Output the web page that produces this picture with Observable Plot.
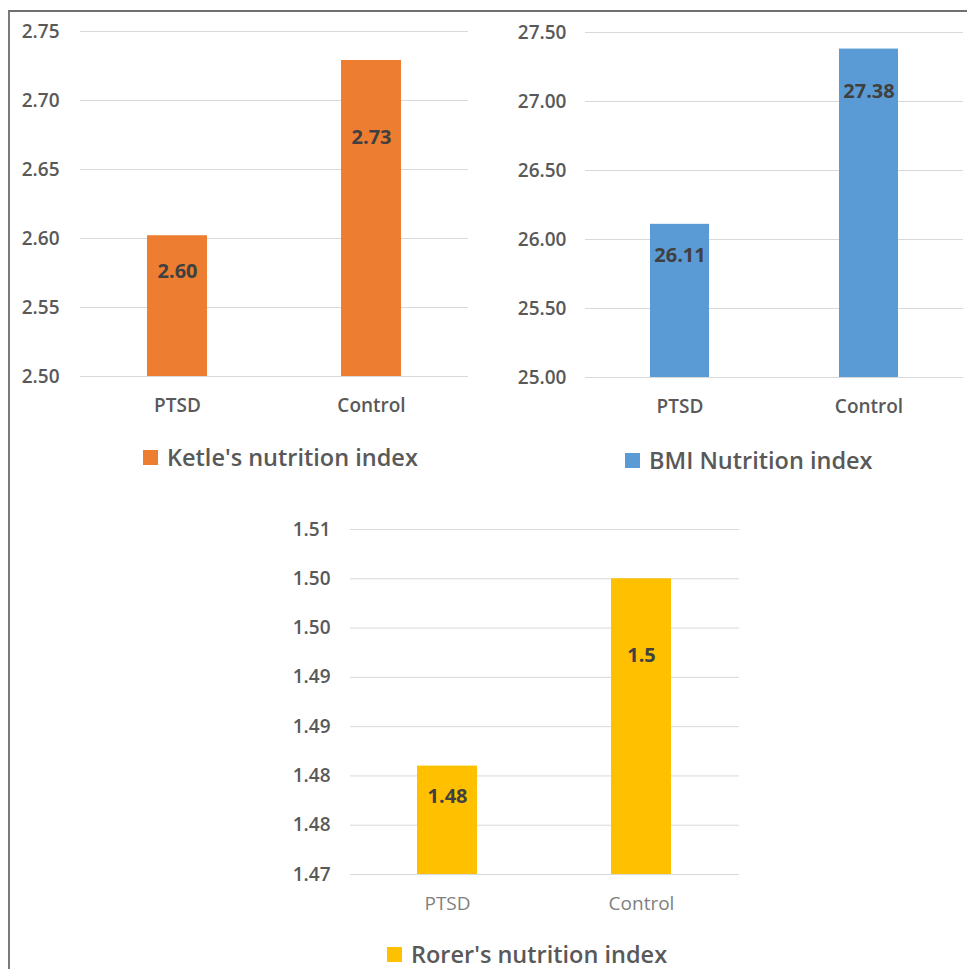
<!DOCTYPE html>
<html>
<head>
<meta charset="utf-8">
<script src="https://cdn.jsdelivr.net/npm/d3@7"></script>
<script src="https://cdn.jsdelivr.net/npm/@observablehq/plot@0.6"></script>
<style>
  html, body { margin: 0; padding: 0; background: #fff; }
  #page { position: relative; width: 967px; height: 969px; overflow: hidden; font-family: "Open Sans", sans-serif; }
  #frame { position: absolute; left: 8px; top: 10px; width: 1000px; height: 1000px;
           border-top: 2px solid #6f6f6f; border-left: 2px solid #7a7a7a; }
  .panel { position: absolute; }
  .legend { position: absolute; display: flex; align-items: center; height: 24px; line-height: 24px;
            font-size: 23.5px; font-weight: 600; color: #595959; white-space: nowrap; }
  .legend .sw { display: inline-block; width: 15px; height: 15px; margin-right: 9px; }
</style>
</head>
<body>
<div id="page"><div id="frame"></div></div>
<script>
// Groups compared in every panel
const groups = ["PTSD", "Control"];

// Ketle's nutrition index
const ketleValues = [2.602, 2.729];
const ketleTicks = [2.50, 2.55, 2.60, 2.65, 2.70, 2.75];
const ketleName = "Ketle's nutrition index";

// BMI nutrition index
const bmiValues = [26.11, 27.38];
const bmiTicks = [25.00, 25.50, 26.00, 26.50, 27.00, 27.50];
const bmiName = "BMI Nutrition index";

// Rorer's nutrition index (axis labels are rounded to two decimals)
const rorerValues = [1.481, 1.5];
const rorerTicks = [1.47, 1.475, 1.48, 1.485, 1.49, 1.495, 1.50, 1.505];
const rorerTickLabels = ["1.47", "1.48", "1.48", "1.49", "1.49", "1.50", "1.50", "1.51"];
const rorerName = "Rorer's nutrition index";

const page = document.getElementById("page");

function panel(cfg) {
  const rows = groups.map((g, i) => ({group: g, value: cfg.values[i]}));
  const base = cfg.ticks[0];
  const tickText = new Map(cfg.ticks.map((t, i) => [t, cfg.tickLabels[i]]));
  const marks = [
    Plot.gridY(cfg.ticks, {stroke: "#d9d9d9", strokeOpacity: 1, strokeWidth: 1}),
    Plot.barY(rows, {x: "group", y1: () => base, y2: "value", fill: cfg.color}),
    Plot.axisY({ticks: cfg.ticks, tickSize: 0, tickPadding: cfg.yPad, tickFormat: d => tickText.get(d),
                fontSize: 19, fontWeight: 600, fill: "#595959"}),
    Plot.axisX({tickSize: 0, tickPadding: 22, fontSize: 19, fontWeight: cfg.catWeight, fill: cfg.catColor})
  ];
  rows.forEach((r, i) => {
    marks.push(Plot.text([r], {x: "group", y: "value", text: d => cfg.fmt(d.value), dy: cfg.labelDrop[i],
                               fontSize: 20, fontWeight: 700, fill: "#404040"}));
  });
  const svg = Plot.plot({
    width: cfg.width,
    height: cfg.height,
    marginLeft: cfg.ml,
    marginRight: cfg.mr,
    marginTop: cfg.mt,
    marginBottom: cfg.mb,
    style: {fontFamily: "Open Sans, sans-serif", background: "transparent", overflow: "visible"},
    x: {domain: groups, paddingInner: 0.69, paddingOuter: 0.345, label: null},
    y: {domain: [base, cfg.ticks[cfg.ticks.length - 1]], label: null},
    marks
  });
  const wrap = document.createElement("div");
  wrap.className = "panel";
  wrap.style.left = cfg.left + "px";
  wrap.style.top = cfg.top + "px";
  wrap.appendChild(svg);
  page.appendChild(wrap);

  const leg = document.createElement("div");
  leg.className = "legend";
  leg.style.left = cfg.legend[0] + "px";
  leg.style.top = (cfg.legend[1] - 12) + "px";
  const sw = document.createElement("span");
  sw.className = "sw";
  sw.style.background = cfg.color;
  leg.appendChild(sw);
  leg.appendChild(document.createTextNode(cfg.name));
  page.appendChild(leg);
}

panel({
  values: ketleValues, ticks: ketleTicks, tickLabels: ketleTicks.map(d3.format(".2f")),
  name: ketleName, color: "#ED7D31", fmt: d3.format(".2f"), labelDrop: [36, 77],
  left: 0, top: 0, width: 480, height: 421, ml: 80, mr: 12, mt: 31, mb: 45, yPad: 21,
  catWeight: 600, catColor: "#595959", legend: [143, 457]
});

panel({
  values: bmiValues, ticks: bmiTicks, tickLabels: bmiTicks.map(d3.format(".2f")),
  name: bmiName, color: "#5B9BD5", fmt: d3.format(".2f"), labelDrop: [31, 43],
  left: 480, top: 0, width: 487, height: 422, ml: 105, mr: 4, mt: 32, mb: 45, yPad: 19,
  catWeight: 600, catColor: "#595959", legend: [625, 460]
});

panel({
  values: rorerValues, ticks: rorerTicks, tickLabels: rorerTickLabels,
  name: rorerName, color: "#FFC000", fmt: d3.format(".3~r"), labelDrop: [31, 77],
  left: 250, top: 480, width: 500, height: 439, ml: 100, mr: 11, mt: 49, mb: 45, yPad: 20,
  catWeight: 400, catColor: "#808080", legend: [387, 954]
});
</script>
</body>
</html>
